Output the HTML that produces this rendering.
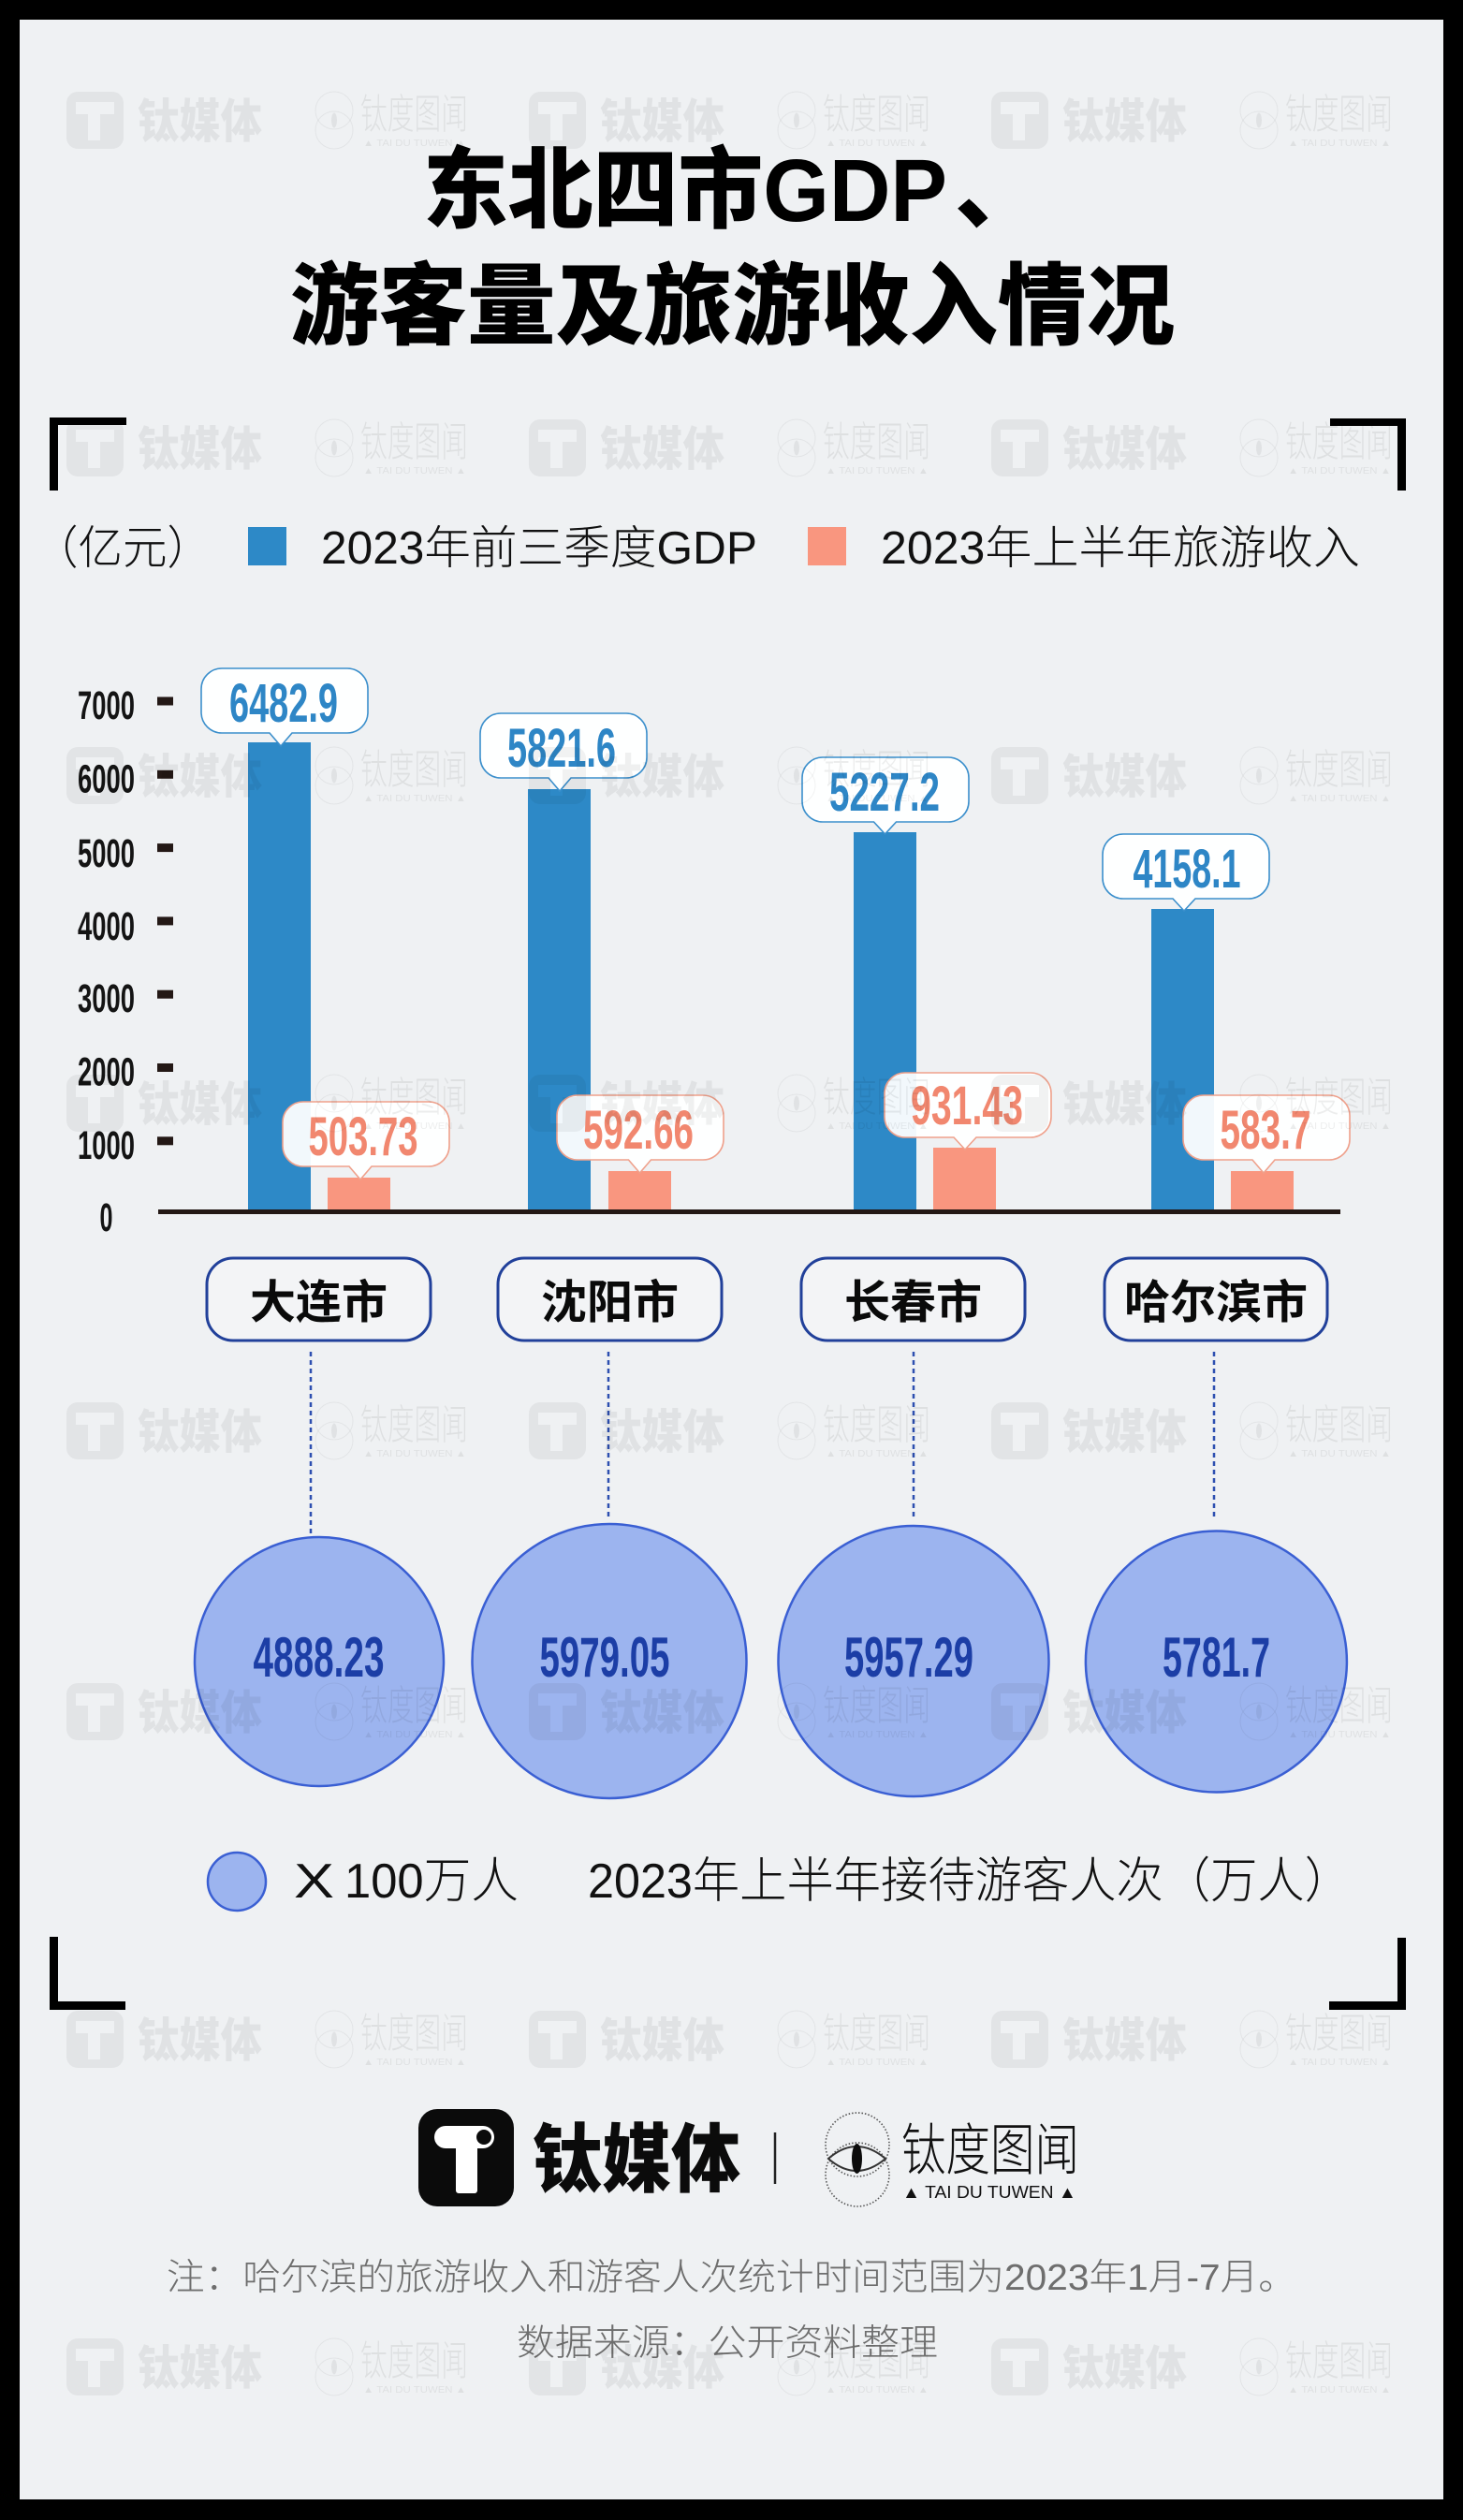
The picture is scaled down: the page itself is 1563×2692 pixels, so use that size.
<!DOCTYPE html>
<html><head><meta charset="utf-8">
<style>html,body{margin:0;padding:0;background:#000}svg{display:block}</style>
</head><body>
<svg width="1563" height="2692" viewBox="0 0 1563 2692" xmlns="http://www.w3.org/2000/svg">
<rect x="0" y="0" width="1563" height="2692" fill="#000"/>
<rect x="21" y="21" width="1521" height="2649" fill="#eff1f3"/>

<!-- Title -->
<g font-family="'Liberation Sans','Noto Sans CJK SC',sans-serif" font-weight="900" fill="#000" font-size="95">
<text x="452" y="236" textLength="560" lengthAdjust="spacingAndGlyphs">东北四市GDP</text>
<text x="1020" y="236">、</text>
<text x="310" y="360" textLength="945" lengthAdjust="spacingAndGlyphs">游客量及旅游收入情况</text>
</g>

<!-- brackets -->
<g fill="#000">
<rect x="53" y="446" width="82" height="8"/><rect x="53" y="446" width="9" height="78"/>
<rect x="1421" y="447" width="81" height="8"/><rect x="1493" y="447" width="9" height="77"/>
<rect x="53" y="2069" width="9" height="78"/><rect x="53" y="2138" width="81" height="9"/>
<rect x="1493" y="2070" width="9" height="77"/><rect x="1420" y="2138" width="82" height="9"/>
</g>

<!-- Legend top -->
<g font-family="'Liberation Sans','Noto Sans CJK SC',sans-serif" font-weight="300" fill="#111" font-size="49">
<text x="36" y="602" textLength="190" lengthAdjust="spacingAndGlyphs">（亿元）</text>
<text x="343" y="602" textLength="466" lengthAdjust="spacingAndGlyphs">2023年前三季度GDP</text>
<text x="941" y="602" textLength="512" lengthAdjust="spacingAndGlyphs">2023年上半年旅游收入</text>
</g>
<rect x="265" y="563" width="41" height="41" fill="#2d89c7"/>
<rect x="863" y="563" width="41" height="41" fill="#f9967f"/>

<!-- Y axis -->
<g fill="#231815">
<rect x="168" y="744.5" width="17" height="9"/>
<rect x="168" y="822.8" width="17" height="9"/>
<rect x="168" y="901.1" width="17" height="9"/>
<rect x="168" y="979.4" width="17" height="9"/>
<rect x="168" y="1057.7" width="17" height="9"/>
<rect x="168" y="1136" width="17" height="9"/>
<rect x="168" y="1214.3" width="17" height="9"/>
</g>
<g font-family="'Liberation Sans Narrow','Liberation Sans',sans-serif" font-weight="bold" font-size="43" fill="#141414" text-anchor="middle">
<text x="113.5" y="768" textLength="61" lengthAdjust="spacingAndGlyphs">7000</text>
<text x="113.5" y="846.3" textLength="61" lengthAdjust="spacingAndGlyphs">6000</text>
<text x="113.5" y="926" textLength="61" lengthAdjust="spacingAndGlyphs">5000</text>
<text x="113.5" y="1004" textLength="61" lengthAdjust="spacingAndGlyphs">4000</text>
<text x="113.5" y="1081.2" textLength="61" lengthAdjust="spacingAndGlyphs">3000</text>
<text x="113.5" y="1159.5" textLength="61" lengthAdjust="spacingAndGlyphs">2000</text>
<text x="113.5" y="1237.8" textLength="61" lengthAdjust="spacingAndGlyphs">1000</text>
<text x="113.5" y="1315" textLength="14" lengthAdjust="spacingAndGlyphs">0</text>
</g>

<!-- Bars -->
<g fill="#2d89c7">
<rect x="265" y="793" width="67" height="502"/>
<rect x="564" y="843" width="67" height="452"/>
<rect x="912" y="889" width="67" height="406"/>
<rect x="1230" y="971" width="67" height="324"/>
</g>
<g fill="#f9967f">
<rect x="350" y="1258" width="67" height="37"/>
<rect x="650" y="1251" width="67" height="44"/>
<rect x="997" y="1226" width="67" height="69"/>
<rect x="1315" y="1251" width="67" height="44"/>
</g>
<rect x="169" y="1292" width="1263" height="5" fill="#231815"/>

<!-- Blue bubbles -->
<g fill="#ffffff" fill-opacity="0.94" stroke="#3b8fcc" stroke-width="1.6">
<path d="M237,714 H371 A22,22 0 0 1 393,736 V761 A22,22 0 0 1 371,783 H312 L300,797 L288,783 H237 A22,22 0 0 1 215,761 V736 A22,22 0 0 1 237,714 Z"/>
<path d="M535,762 H669 A22,22 0 0 1 691,784 V809 A22,22 0 0 1 669,831 H610 L598,845 L586,831 H535 A22,22 0 0 1 513,809 V784 A22,22 0 0 1 535,762 Z"/>
<path d="M879,809 H1013 A22,22 0 0 1 1035,831 V856 A22,22 0 0 1 1013,878 H957.5 L945.5,891 L933.5,878 H879 A22,22 0 0 1 857,856 V831 A22,22 0 0 1 879,809 Z"/>
<path d="M1200,891 H1334 A22,22 0 0 1 1356,913 V938 A22,22 0 0 1 1334,960 H1277 L1265,973 L1253,960 H1200 A22,22 0 0 1 1178,938 V913 A22,22 0 0 1 1200,891 Z"/>
</g>
<g fill="#ffffff" fill-opacity="0.94" stroke="#efa18c" stroke-width="1.6">
<path d="M324,1177 H458 A22,22 0 0 1 480,1199 V1224 A22,22 0 0 1 458,1246 H397 L385,1260 L373,1246 H324 A22,22 0 0 1 302,1224 V1199 A22,22 0 0 1 324,1177 Z"/>
<path d="M617,1170 H751 A22,22 0 0 1 773,1192 V1217 A22,22 0 0 1 751,1239 H695.5 L683.5,1253 L671.5,1239 H617 A22,22 0 0 1 595,1217 V1192 A22,22 0 0 1 617,1170 Z"/>
<path d="M967,1146 H1101 A22,22 0 0 1 1123,1168 V1193 A22,22 0 0 1 1101,1215 H1043 L1031,1228 L1019,1215 H967 A22,22 0 0 1 945,1193 V1168 A22,22 0 0 1 967,1146 Z"/>
<path d="M1286,1170 H1420 A22,22 0 0 1 1442,1192 V1217 A22,22 0 0 1 1420,1239 H1362 L1350,1253 L1338,1239 H1286 A22,22 0 0 1 1264,1217 V1192 A22,22 0 0 1 1286,1170 Z"/>
</g>
<g font-family="'Liberation Sans Narrow','Liberation Sans',sans-serif" font-weight="bold" font-size="58" text-anchor="middle">
<g fill="#2e86c6">
<text x="303" y="771" textLength="116" lengthAdjust="spacingAndGlyphs">6482.9</text>
<text x="600" y="819" textLength="116" lengthAdjust="spacingAndGlyphs">5821.6</text>
<text x="945" y="866" textLength="118" lengthAdjust="spacingAndGlyphs">5227.2</text>
<text x="1268" y="948" textLength="115" lengthAdjust="spacingAndGlyphs">4158.1</text>
</g>
<g fill="#f1876f">
<text x="388" y="1234" textLength="117" lengthAdjust="spacingAndGlyphs">503.73</text>
<text x="682" y="1227" textLength="118" lengthAdjust="spacingAndGlyphs">592.66</text>
<text x="1033" y="1201" textLength="120" lengthAdjust="spacingAndGlyphs">931.43</text>
<text x="1352" y="1227" textLength="97" lengthAdjust="spacingAndGlyphs">583.7</text>
</g>
</g>

<!-- City boxes -->
<g fill="#f3f4f6" stroke="#21409a" stroke-width="3">
<rect x="221" y="1344" width="239" height="88" rx="28"/>
<rect x="532" y="1344" width="239" height="88" rx="28"/>
<rect x="856" y="1344" width="239" height="88" rx="28"/>
<rect x="1180" y="1344" width="238" height="88" rx="28"/>
</g>
<g font-family="'Liberation Sans','Noto Sans CJK SC',sans-serif" font-weight="bold" font-size="49" fill="#0a0a0a" text-anchor="middle">
<text x="340.5" y="1408">大连市</text>
<text x="651.5" y="1408">沈阳市</text>
<text x="975.5" y="1408">长春市</text>
<text x="1299" y="1408">哈尔滨市</text>
</g>

<!-- dashed connectors -->
<g stroke="#2d4fb0" stroke-width="2.5" stroke-dasharray="5 4">
<line x1="332" y1="1444" x2="332" y2="1638"/>
<line x1="650" y1="1444" x2="650" y2="1624"/>
<line x1="976" y1="1444" x2="976" y2="1624"/>
<line x1="1297" y1="1444" x2="1297" y2="1624"/>
</g>

<!-- circles -->
<g fill="#9cb4ef" stroke="#3a5fd3" stroke-width="2.5">
<circle cx="341" cy="1775" r="133"/>
<circle cx="651" cy="1774.5" r="146.5"/>
<circle cx="976" cy="1774.5" r="144.5"/>
<circle cx="1299.4" cy="1775" r="139.5"/>
</g>
<g font-family="'Liberation Sans Narrow','Liberation Sans',sans-serif" font-weight="bold" font-size="60" fill="#1c3ea6" text-anchor="middle">
<text x="340.5" y="1791" textLength="140" lengthAdjust="spacingAndGlyphs">4888.23</text>
<text x="646" y="1791" textLength="139" lengthAdjust="spacingAndGlyphs">5979.05</text>
<text x="971" y="1791" textLength="138" lengthAdjust="spacingAndGlyphs">5957.29</text>
<text x="1299.5" y="1791" textLength="115" lengthAdjust="spacingAndGlyphs">5781.7</text>
</g>

<!-- bottom legend -->
<circle cx="253" cy="2010" r="31" fill="#9cb4ef" stroke="#3a5fd3" stroke-width="2.5"/>
<g font-family="'Liberation Sans','Noto Sans CJK SC',sans-serif" font-weight="300" fill="#111" font-size="52">
<text x="314" y="2027" textLength="43" lengthAdjust="spacingAndGlyphs">X</text>
<text x="368" y="2027" textLength="186" lengthAdjust="spacingAndGlyphs">100万人</text>
<text x="628" y="2027" textLength="816" lengthAdjust="spacingAndGlyphs">2023年上半年接待游客人次（万人）</text>
</g>

<!-- footer logos -->
<rect x="447" y="2253" width="102" height="104" rx="20" fill="#0b0b0b"/>
<rect x="464" y="2271" width="64" height="24" rx="12" fill="#fff"/>
<rect x="487" y="2285" width="23" height="58" rx="3" fill="#fff"/>
<circle cx="517" cy="2283" r="8" fill="#0b0b0b"/>
<text x="569" y="2335" font-family="'Liberation Sans','Noto Sans CJK SC',sans-serif" font-weight="900" font-size="80" fill="#0b0b0b" textLength="222" lengthAdjust="spacingAndGlyphs">钛媒体</text>
<line x1="828" y1="2278" x2="828" y2="2333" stroke="#222" stroke-width="2.5"/>
<g fill="none" stroke="#555" stroke-width="1.6" stroke-dasharray="1.5 2">
<circle cx="916" cy="2291" r="34"/>
<circle cx="916" cy="2323" r="34"/>
</g>
<path d="M885,2306 Q915,2280 946,2306 Q915,2332 885,2306 Z" fill="none" stroke="#333" stroke-width="2"/>
<ellipse cx="915.5" cy="2306" rx="5.5" ry="16" fill="#0b0b0b"/>
<text x="963" y="2318" font-family="'Liberation Sans','Noto Sans CJK SC',sans-serif" font-weight="200" font-size="60" fill="#111" textLength="190" lengthAdjust="spacingAndGlyphs">钛度图闻</text>
<text x="964" y="2348" font-family="'Liberation Sans',sans-serif" font-size="18" fill="#111" textLength="186" lengthAdjust="spacingAndGlyphs">▲ TAI DU TUWEN ▲</text>

<!-- footnotes -->
<g font-family="'Liberation Sans','Noto Sans CJK SC',sans-serif" font-weight="300" font-size="39" fill="#6e6e6e">
<text x="178" y="2446" textLength="1207" lengthAdjust="spacingAndGlyphs">注：哈尔滨的旅游收入和游客人次统计时间范围为2023年1月-7月。</text>
<text x="552" y="2516" textLength="450" lengthAdjust="spacingAndGlyphs">数据来源：公开资料整理</text>
</g>

<!-- watermarks -->
<g font-family="'Liberation Sans','Noto Sans CJK SC',sans-serif">
<g transform="translate(0,98)">
<g transform="translate(71,0)"><path fill-rule="evenodd" fill="#000" fill-opacity="0.05" d="M12,0H49A12,12 0 0 1 61,12V49A12,12 0 0 1 49,61H12A12,12 0 0 1 0,49V12A12,12 0 0 1 12,0ZM10,11H51V24H36V52H23V24H10Z"/><text x="76" y="49" font-size="50" font-weight="900" fill="#000" fill-opacity="0.06" textLength="133" lengthAdjust="spacingAndGlyphs">钛媒体</text></g>
<g transform="translate(565,0)"><path fill-rule="evenodd" fill="#000" fill-opacity="0.05" d="M12,0H49A12,12 0 0 1 61,12V49A12,12 0 0 1 49,61H12A12,12 0 0 1 0,49V12A12,12 0 0 1 12,0ZM10,11H51V24H36V52H23V24H10Z"/><text x="76" y="49" font-size="50" font-weight="900" fill="#000" fill-opacity="0.06" textLength="133" lengthAdjust="spacingAndGlyphs">钛媒体</text></g>
<g transform="translate(1059,0)"><path fill-rule="evenodd" fill="#000" fill-opacity="0.05" d="M12,0H49A12,12 0 0 1 61,12V49A12,12 0 0 1 49,61H12A12,12 0 0 1 0,49V12A12,12 0 0 1 12,0ZM10,11H51V24H36V52H23V24H10Z"/><text x="76" y="49" font-size="50" font-weight="900" fill="#000" fill-opacity="0.06" textLength="133" lengthAdjust="spacingAndGlyphs">钛媒体</text></g>
<g transform="translate(337,0)"><circle cx="20" cy="20" r="20" fill="none" stroke="#000" stroke-opacity="0.05"/><circle cx="20" cy="41" r="20" fill="none" stroke="#000" stroke-opacity="0.05"/><ellipse cx="20" cy="30.5" rx="3" ry="8" fill="#000" fill-opacity="0.06"/><text x="48" y="39" font-size="44" font-weight="200" fill="#000" fill-opacity="0.07" textLength="115" lengthAdjust="spacingAndGlyphs">钛度图闻</text><text x="51" y="58" font-size="10" fill="#000" fill-opacity="0.07" textLength="110" lengthAdjust="spacingAndGlyphs">▲ TAI DU TUWEN ▲</text></g>
<g transform="translate(831,0)"><circle cx="20" cy="20" r="20" fill="none" stroke="#000" stroke-opacity="0.05"/><circle cx="20" cy="41" r="20" fill="none" stroke="#000" stroke-opacity="0.05"/><ellipse cx="20" cy="30.5" rx="3" ry="8" fill="#000" fill-opacity="0.06"/><text x="48" y="39" font-size="44" font-weight="200" fill="#000" fill-opacity="0.07" textLength="115" lengthAdjust="spacingAndGlyphs">钛度图闻</text><text x="51" y="58" font-size="10" fill="#000" fill-opacity="0.07" textLength="110" lengthAdjust="spacingAndGlyphs">▲ TAI DU TUWEN ▲</text></g>
<g transform="translate(1325,0)"><circle cx="20" cy="20" r="20" fill="none" stroke="#000" stroke-opacity="0.05"/><circle cx="20" cy="41" r="20" fill="none" stroke="#000" stroke-opacity="0.05"/><ellipse cx="20" cy="30.5" rx="3" ry="8" fill="#000" fill-opacity="0.06"/><text x="48" y="39" font-size="44" font-weight="200" fill="#000" fill-opacity="0.07" textLength="115" lengthAdjust="spacingAndGlyphs">钛度图闻</text><text x="51" y="58" font-size="10" fill="#000" fill-opacity="0.07" textLength="110" lengthAdjust="spacingAndGlyphs">▲ TAI DU TUWEN ▲</text></g>
</g>
<g transform="translate(0,448)">
<g transform="translate(71,0)"><path fill-rule="evenodd" fill="#000" fill-opacity="0.05" d="M12,0H49A12,12 0 0 1 61,12V49A12,12 0 0 1 49,61H12A12,12 0 0 1 0,49V12A12,12 0 0 1 12,0ZM10,11H51V24H36V52H23V24H10Z"/><text x="76" y="49" font-size="50" font-weight="900" fill="#000" fill-opacity="0.06" textLength="133" lengthAdjust="spacingAndGlyphs">钛媒体</text></g>
<g transform="translate(565,0)"><path fill-rule="evenodd" fill="#000" fill-opacity="0.05" d="M12,0H49A12,12 0 0 1 61,12V49A12,12 0 0 1 49,61H12A12,12 0 0 1 0,49V12A12,12 0 0 1 12,0ZM10,11H51V24H36V52H23V24H10Z"/><text x="76" y="49" font-size="50" font-weight="900" fill="#000" fill-opacity="0.06" textLength="133" lengthAdjust="spacingAndGlyphs">钛媒体</text></g>
<g transform="translate(1059,0)"><path fill-rule="evenodd" fill="#000" fill-opacity="0.05" d="M12,0H49A12,12 0 0 1 61,12V49A12,12 0 0 1 49,61H12A12,12 0 0 1 0,49V12A12,12 0 0 1 12,0ZM10,11H51V24H36V52H23V24H10Z"/><text x="76" y="49" font-size="50" font-weight="900" fill="#000" fill-opacity="0.06" textLength="133" lengthAdjust="spacingAndGlyphs">钛媒体</text></g>
<g transform="translate(337,0)"><circle cx="20" cy="20" r="20" fill="none" stroke="#000" stroke-opacity="0.05"/><circle cx="20" cy="41" r="20" fill="none" stroke="#000" stroke-opacity="0.05"/><ellipse cx="20" cy="30.5" rx="3" ry="8" fill="#000" fill-opacity="0.06"/><text x="48" y="39" font-size="44" font-weight="200" fill="#000" fill-opacity="0.07" textLength="115" lengthAdjust="spacingAndGlyphs">钛度图闻</text><text x="51" y="58" font-size="10" fill="#000" fill-opacity="0.07" textLength="110" lengthAdjust="spacingAndGlyphs">▲ TAI DU TUWEN ▲</text></g>
<g transform="translate(831,0)"><circle cx="20" cy="20" r="20" fill="none" stroke="#000" stroke-opacity="0.05"/><circle cx="20" cy="41" r="20" fill="none" stroke="#000" stroke-opacity="0.05"/><ellipse cx="20" cy="30.5" rx="3" ry="8" fill="#000" fill-opacity="0.06"/><text x="48" y="39" font-size="44" font-weight="200" fill="#000" fill-opacity="0.07" textLength="115" lengthAdjust="spacingAndGlyphs">钛度图闻</text><text x="51" y="58" font-size="10" fill="#000" fill-opacity="0.07" textLength="110" lengthAdjust="spacingAndGlyphs">▲ TAI DU TUWEN ▲</text></g>
<g transform="translate(1325,0)"><circle cx="20" cy="20" r="20" fill="none" stroke="#000" stroke-opacity="0.05"/><circle cx="20" cy="41" r="20" fill="none" stroke="#000" stroke-opacity="0.05"/><ellipse cx="20" cy="30.5" rx="3" ry="8" fill="#000" fill-opacity="0.06"/><text x="48" y="39" font-size="44" font-weight="200" fill="#000" fill-opacity="0.07" textLength="115" lengthAdjust="spacingAndGlyphs">钛度图闻</text><text x="51" y="58" font-size="10" fill="#000" fill-opacity="0.07" textLength="110" lengthAdjust="spacingAndGlyphs">▲ TAI DU TUWEN ▲</text></g>
</g>
<g transform="translate(0,798)">
<g transform="translate(71,0)"><path fill-rule="evenodd" fill="#000" fill-opacity="0.05" d="M12,0H49A12,12 0 0 1 61,12V49A12,12 0 0 1 49,61H12A12,12 0 0 1 0,49V12A12,12 0 0 1 12,0ZM10,11H51V24H36V52H23V24H10Z"/><text x="76" y="49" font-size="50" font-weight="900" fill="#000" fill-opacity="0.06" textLength="133" lengthAdjust="spacingAndGlyphs">钛媒体</text></g>
<g transform="translate(565,0)"><path fill-rule="evenodd" fill="#000" fill-opacity="0.05" d="M12,0H49A12,12 0 0 1 61,12V49A12,12 0 0 1 49,61H12A12,12 0 0 1 0,49V12A12,12 0 0 1 12,0ZM10,11H51V24H36V52H23V24H10Z"/><text x="76" y="49" font-size="50" font-weight="900" fill="#000" fill-opacity="0.06" textLength="133" lengthAdjust="spacingAndGlyphs">钛媒体</text></g>
<g transform="translate(1059,0)"><path fill-rule="evenodd" fill="#000" fill-opacity="0.05" d="M12,0H49A12,12 0 0 1 61,12V49A12,12 0 0 1 49,61H12A12,12 0 0 1 0,49V12A12,12 0 0 1 12,0ZM10,11H51V24H36V52H23V24H10Z"/><text x="76" y="49" font-size="50" font-weight="900" fill="#000" fill-opacity="0.06" textLength="133" lengthAdjust="spacingAndGlyphs">钛媒体</text></g>
<g transform="translate(337,0)"><circle cx="20" cy="20" r="20" fill="none" stroke="#000" stroke-opacity="0.05"/><circle cx="20" cy="41" r="20" fill="none" stroke="#000" stroke-opacity="0.05"/><ellipse cx="20" cy="30.5" rx="3" ry="8" fill="#000" fill-opacity="0.06"/><text x="48" y="39" font-size="44" font-weight="200" fill="#000" fill-opacity="0.07" textLength="115" lengthAdjust="spacingAndGlyphs">钛度图闻</text><text x="51" y="58" font-size="10" fill="#000" fill-opacity="0.07" textLength="110" lengthAdjust="spacingAndGlyphs">▲ TAI DU TUWEN ▲</text></g>
<g transform="translate(831,0)"><circle cx="20" cy="20" r="20" fill="none" stroke="#000" stroke-opacity="0.05"/><circle cx="20" cy="41" r="20" fill="none" stroke="#000" stroke-opacity="0.05"/><ellipse cx="20" cy="30.5" rx="3" ry="8" fill="#000" fill-opacity="0.06"/><text x="48" y="39" font-size="44" font-weight="200" fill="#000" fill-opacity="0.07" textLength="115" lengthAdjust="spacingAndGlyphs">钛度图闻</text><text x="51" y="58" font-size="10" fill="#000" fill-opacity="0.07" textLength="110" lengthAdjust="spacingAndGlyphs">▲ TAI DU TUWEN ▲</text></g>
<g transform="translate(1325,0)"><circle cx="20" cy="20" r="20" fill="none" stroke="#000" stroke-opacity="0.05"/><circle cx="20" cy="41" r="20" fill="none" stroke="#000" stroke-opacity="0.05"/><ellipse cx="20" cy="30.5" rx="3" ry="8" fill="#000" fill-opacity="0.06"/><text x="48" y="39" font-size="44" font-weight="200" fill="#000" fill-opacity="0.07" textLength="115" lengthAdjust="spacingAndGlyphs">钛度图闻</text><text x="51" y="58" font-size="10" fill="#000" fill-opacity="0.07" textLength="110" lengthAdjust="spacingAndGlyphs">▲ TAI DU TUWEN ▲</text></g>
</g>
<g transform="translate(0,1148)">
<g transform="translate(71,0)"><path fill-rule="evenodd" fill="#000" fill-opacity="0.05" d="M12,0H49A12,12 0 0 1 61,12V49A12,12 0 0 1 49,61H12A12,12 0 0 1 0,49V12A12,12 0 0 1 12,0ZM10,11H51V24H36V52H23V24H10Z"/><text x="76" y="49" font-size="50" font-weight="900" fill="#000" fill-opacity="0.06" textLength="133" lengthAdjust="spacingAndGlyphs">钛媒体</text></g>
<g transform="translate(565,0)"><path fill-rule="evenodd" fill="#000" fill-opacity="0.05" d="M12,0H49A12,12 0 0 1 61,12V49A12,12 0 0 1 49,61H12A12,12 0 0 1 0,49V12A12,12 0 0 1 12,0ZM10,11H51V24H36V52H23V24H10Z"/><text x="76" y="49" font-size="50" font-weight="900" fill="#000" fill-opacity="0.06" textLength="133" lengthAdjust="spacingAndGlyphs">钛媒体</text></g>
<g transform="translate(1059,0)"><path fill-rule="evenodd" fill="#000" fill-opacity="0.05" d="M12,0H49A12,12 0 0 1 61,12V49A12,12 0 0 1 49,61H12A12,12 0 0 1 0,49V12A12,12 0 0 1 12,0ZM10,11H51V24H36V52H23V24H10Z"/><text x="76" y="49" font-size="50" font-weight="900" fill="#000" fill-opacity="0.06" textLength="133" lengthAdjust="spacingAndGlyphs">钛媒体</text></g>
<g transform="translate(337,0)"><circle cx="20" cy="20" r="20" fill="none" stroke="#000" stroke-opacity="0.05"/><circle cx="20" cy="41" r="20" fill="none" stroke="#000" stroke-opacity="0.05"/><ellipse cx="20" cy="30.5" rx="3" ry="8" fill="#000" fill-opacity="0.06"/><text x="48" y="39" font-size="44" font-weight="200" fill="#000" fill-opacity="0.07" textLength="115" lengthAdjust="spacingAndGlyphs">钛度图闻</text><text x="51" y="58" font-size="10" fill="#000" fill-opacity="0.07" textLength="110" lengthAdjust="spacingAndGlyphs">▲ TAI DU TUWEN ▲</text></g>
<g transform="translate(831,0)"><circle cx="20" cy="20" r="20" fill="none" stroke="#000" stroke-opacity="0.05"/><circle cx="20" cy="41" r="20" fill="none" stroke="#000" stroke-opacity="0.05"/><ellipse cx="20" cy="30.5" rx="3" ry="8" fill="#000" fill-opacity="0.06"/><text x="48" y="39" font-size="44" font-weight="200" fill="#000" fill-opacity="0.07" textLength="115" lengthAdjust="spacingAndGlyphs">钛度图闻</text><text x="51" y="58" font-size="10" fill="#000" fill-opacity="0.07" textLength="110" lengthAdjust="spacingAndGlyphs">▲ TAI DU TUWEN ▲</text></g>
<g transform="translate(1325,0)"><circle cx="20" cy="20" r="20" fill="none" stroke="#000" stroke-opacity="0.05"/><circle cx="20" cy="41" r="20" fill="none" stroke="#000" stroke-opacity="0.05"/><ellipse cx="20" cy="30.5" rx="3" ry="8" fill="#000" fill-opacity="0.06"/><text x="48" y="39" font-size="44" font-weight="200" fill="#000" fill-opacity="0.07" textLength="115" lengthAdjust="spacingAndGlyphs">钛度图闻</text><text x="51" y="58" font-size="10" fill="#000" fill-opacity="0.07" textLength="110" lengthAdjust="spacingAndGlyphs">▲ TAI DU TUWEN ▲</text></g>
</g>
<g transform="translate(0,1498)">
<g transform="translate(71,0)"><path fill-rule="evenodd" fill="#000" fill-opacity="0.05" d="M12,0H49A12,12 0 0 1 61,12V49A12,12 0 0 1 49,61H12A12,12 0 0 1 0,49V12A12,12 0 0 1 12,0ZM10,11H51V24H36V52H23V24H10Z"/><text x="76" y="49" font-size="50" font-weight="900" fill="#000" fill-opacity="0.06" textLength="133" lengthAdjust="spacingAndGlyphs">钛媒体</text></g>
<g transform="translate(565,0)"><path fill-rule="evenodd" fill="#000" fill-opacity="0.05" d="M12,0H49A12,12 0 0 1 61,12V49A12,12 0 0 1 49,61H12A12,12 0 0 1 0,49V12A12,12 0 0 1 12,0ZM10,11H51V24H36V52H23V24H10Z"/><text x="76" y="49" font-size="50" font-weight="900" fill="#000" fill-opacity="0.06" textLength="133" lengthAdjust="spacingAndGlyphs">钛媒体</text></g>
<g transform="translate(1059,0)"><path fill-rule="evenodd" fill="#000" fill-opacity="0.05" d="M12,0H49A12,12 0 0 1 61,12V49A12,12 0 0 1 49,61H12A12,12 0 0 1 0,49V12A12,12 0 0 1 12,0ZM10,11H51V24H36V52H23V24H10Z"/><text x="76" y="49" font-size="50" font-weight="900" fill="#000" fill-opacity="0.06" textLength="133" lengthAdjust="spacingAndGlyphs">钛媒体</text></g>
<g transform="translate(337,0)"><circle cx="20" cy="20" r="20" fill="none" stroke="#000" stroke-opacity="0.05"/><circle cx="20" cy="41" r="20" fill="none" stroke="#000" stroke-opacity="0.05"/><ellipse cx="20" cy="30.5" rx="3" ry="8" fill="#000" fill-opacity="0.06"/><text x="48" y="39" font-size="44" font-weight="200" fill="#000" fill-opacity="0.07" textLength="115" lengthAdjust="spacingAndGlyphs">钛度图闻</text><text x="51" y="58" font-size="10" fill="#000" fill-opacity="0.07" textLength="110" lengthAdjust="spacingAndGlyphs">▲ TAI DU TUWEN ▲</text></g>
<g transform="translate(831,0)"><circle cx="20" cy="20" r="20" fill="none" stroke="#000" stroke-opacity="0.05"/><circle cx="20" cy="41" r="20" fill="none" stroke="#000" stroke-opacity="0.05"/><ellipse cx="20" cy="30.5" rx="3" ry="8" fill="#000" fill-opacity="0.06"/><text x="48" y="39" font-size="44" font-weight="200" fill="#000" fill-opacity="0.07" textLength="115" lengthAdjust="spacingAndGlyphs">钛度图闻</text><text x="51" y="58" font-size="10" fill="#000" fill-opacity="0.07" textLength="110" lengthAdjust="spacingAndGlyphs">▲ TAI DU TUWEN ▲</text></g>
<g transform="translate(1325,0)"><circle cx="20" cy="20" r="20" fill="none" stroke="#000" stroke-opacity="0.05"/><circle cx="20" cy="41" r="20" fill="none" stroke="#000" stroke-opacity="0.05"/><ellipse cx="20" cy="30.5" rx="3" ry="8" fill="#000" fill-opacity="0.06"/><text x="48" y="39" font-size="44" font-weight="200" fill="#000" fill-opacity="0.07" textLength="115" lengthAdjust="spacingAndGlyphs">钛度图闻</text><text x="51" y="58" font-size="10" fill="#000" fill-opacity="0.07" textLength="110" lengthAdjust="spacingAndGlyphs">▲ TAI DU TUWEN ▲</text></g>
</g>
<g transform="translate(0,1798)">
<g transform="translate(71,0)"><path fill-rule="evenodd" fill="#000" fill-opacity="0.05" d="M12,0H49A12,12 0 0 1 61,12V49A12,12 0 0 1 49,61H12A12,12 0 0 1 0,49V12A12,12 0 0 1 12,0ZM10,11H51V24H36V52H23V24H10Z"/><text x="76" y="49" font-size="50" font-weight="900" fill="#000" fill-opacity="0.06" textLength="133" lengthAdjust="spacingAndGlyphs">钛媒体</text></g>
<g transform="translate(565,0)"><path fill-rule="evenodd" fill="#000" fill-opacity="0.05" d="M12,0H49A12,12 0 0 1 61,12V49A12,12 0 0 1 49,61H12A12,12 0 0 1 0,49V12A12,12 0 0 1 12,0ZM10,11H51V24H36V52H23V24H10Z"/><text x="76" y="49" font-size="50" font-weight="900" fill="#000" fill-opacity="0.06" textLength="133" lengthAdjust="spacingAndGlyphs">钛媒体</text></g>
<g transform="translate(1059,0)"><path fill-rule="evenodd" fill="#000" fill-opacity="0.05" d="M12,0H49A12,12 0 0 1 61,12V49A12,12 0 0 1 49,61H12A12,12 0 0 1 0,49V12A12,12 0 0 1 12,0ZM10,11H51V24H36V52H23V24H10Z"/><text x="76" y="49" font-size="50" font-weight="900" fill="#000" fill-opacity="0.06" textLength="133" lengthAdjust="spacingAndGlyphs">钛媒体</text></g>
<g transform="translate(337,0)"><circle cx="20" cy="20" r="20" fill="none" stroke="#000" stroke-opacity="0.05"/><circle cx="20" cy="41" r="20" fill="none" stroke="#000" stroke-opacity="0.05"/><ellipse cx="20" cy="30.5" rx="3" ry="8" fill="#000" fill-opacity="0.06"/><text x="48" y="39" font-size="44" font-weight="200" fill="#000" fill-opacity="0.07" textLength="115" lengthAdjust="spacingAndGlyphs">钛度图闻</text><text x="51" y="58" font-size="10" fill="#000" fill-opacity="0.07" textLength="110" lengthAdjust="spacingAndGlyphs">▲ TAI DU TUWEN ▲</text></g>
<g transform="translate(831,0)"><circle cx="20" cy="20" r="20" fill="none" stroke="#000" stroke-opacity="0.05"/><circle cx="20" cy="41" r="20" fill="none" stroke="#000" stroke-opacity="0.05"/><ellipse cx="20" cy="30.5" rx="3" ry="8" fill="#000" fill-opacity="0.06"/><text x="48" y="39" font-size="44" font-weight="200" fill="#000" fill-opacity="0.07" textLength="115" lengthAdjust="spacingAndGlyphs">钛度图闻</text><text x="51" y="58" font-size="10" fill="#000" fill-opacity="0.07" textLength="110" lengthAdjust="spacingAndGlyphs">▲ TAI DU TUWEN ▲</text></g>
<g transform="translate(1325,0)"><circle cx="20" cy="20" r="20" fill="none" stroke="#000" stroke-opacity="0.05"/><circle cx="20" cy="41" r="20" fill="none" stroke="#000" stroke-opacity="0.05"/><ellipse cx="20" cy="30.5" rx="3" ry="8" fill="#000" fill-opacity="0.06"/><text x="48" y="39" font-size="44" font-weight="200" fill="#000" fill-opacity="0.07" textLength="115" lengthAdjust="spacingAndGlyphs">钛度图闻</text><text x="51" y="58" font-size="10" fill="#000" fill-opacity="0.07" textLength="110" lengthAdjust="spacingAndGlyphs">▲ TAI DU TUWEN ▲</text></g>
</g>
<g transform="translate(0,2148)">
<g transform="translate(71,0)"><path fill-rule="evenodd" fill="#000" fill-opacity="0.05" d="M12,0H49A12,12 0 0 1 61,12V49A12,12 0 0 1 49,61H12A12,12 0 0 1 0,49V12A12,12 0 0 1 12,0ZM10,11H51V24H36V52H23V24H10Z"/><text x="76" y="49" font-size="50" font-weight="900" fill="#000" fill-opacity="0.06" textLength="133" lengthAdjust="spacingAndGlyphs">钛媒体</text></g>
<g transform="translate(565,0)"><path fill-rule="evenodd" fill="#000" fill-opacity="0.05" d="M12,0H49A12,12 0 0 1 61,12V49A12,12 0 0 1 49,61H12A12,12 0 0 1 0,49V12A12,12 0 0 1 12,0ZM10,11H51V24H36V52H23V24H10Z"/><text x="76" y="49" font-size="50" font-weight="900" fill="#000" fill-opacity="0.06" textLength="133" lengthAdjust="spacingAndGlyphs">钛媒体</text></g>
<g transform="translate(1059,0)"><path fill-rule="evenodd" fill="#000" fill-opacity="0.05" d="M12,0H49A12,12 0 0 1 61,12V49A12,12 0 0 1 49,61H12A12,12 0 0 1 0,49V12A12,12 0 0 1 12,0ZM10,11H51V24H36V52H23V24H10Z"/><text x="76" y="49" font-size="50" font-weight="900" fill="#000" fill-opacity="0.06" textLength="133" lengthAdjust="spacingAndGlyphs">钛媒体</text></g>
<g transform="translate(337,0)"><circle cx="20" cy="20" r="20" fill="none" stroke="#000" stroke-opacity="0.05"/><circle cx="20" cy="41" r="20" fill="none" stroke="#000" stroke-opacity="0.05"/><ellipse cx="20" cy="30.5" rx="3" ry="8" fill="#000" fill-opacity="0.06"/><text x="48" y="39" font-size="44" font-weight="200" fill="#000" fill-opacity="0.07" textLength="115" lengthAdjust="spacingAndGlyphs">钛度图闻</text><text x="51" y="58" font-size="10" fill="#000" fill-opacity="0.07" textLength="110" lengthAdjust="spacingAndGlyphs">▲ TAI DU TUWEN ▲</text></g>
<g transform="translate(831,0)"><circle cx="20" cy="20" r="20" fill="none" stroke="#000" stroke-opacity="0.05"/><circle cx="20" cy="41" r="20" fill="none" stroke="#000" stroke-opacity="0.05"/><ellipse cx="20" cy="30.5" rx="3" ry="8" fill="#000" fill-opacity="0.06"/><text x="48" y="39" font-size="44" font-weight="200" fill="#000" fill-opacity="0.07" textLength="115" lengthAdjust="spacingAndGlyphs">钛度图闻</text><text x="51" y="58" font-size="10" fill="#000" fill-opacity="0.07" textLength="110" lengthAdjust="spacingAndGlyphs">▲ TAI DU TUWEN ▲</text></g>
<g transform="translate(1325,0)"><circle cx="20" cy="20" r="20" fill="none" stroke="#000" stroke-opacity="0.05"/><circle cx="20" cy="41" r="20" fill="none" stroke="#000" stroke-opacity="0.05"/><ellipse cx="20" cy="30.5" rx="3" ry="8" fill="#000" fill-opacity="0.06"/><text x="48" y="39" font-size="44" font-weight="200" fill="#000" fill-opacity="0.07" textLength="115" lengthAdjust="spacingAndGlyphs">钛度图闻</text><text x="51" y="58" font-size="10" fill="#000" fill-opacity="0.07" textLength="110" lengthAdjust="spacingAndGlyphs">▲ TAI DU TUWEN ▲</text></g>
</g>
<g transform="translate(0,2498)">
<g transform="translate(71,0)"><path fill-rule="evenodd" fill="#000" fill-opacity="0.05" d="M12,0H49A12,12 0 0 1 61,12V49A12,12 0 0 1 49,61H12A12,12 0 0 1 0,49V12A12,12 0 0 1 12,0ZM10,11H51V24H36V52H23V24H10Z"/><text x="76" y="49" font-size="50" font-weight="900" fill="#000" fill-opacity="0.06" textLength="133" lengthAdjust="spacingAndGlyphs">钛媒体</text></g>
<g transform="translate(565,0)"><path fill-rule="evenodd" fill="#000" fill-opacity="0.05" d="M12,0H49A12,12 0 0 1 61,12V49A12,12 0 0 1 49,61H12A12,12 0 0 1 0,49V12A12,12 0 0 1 12,0ZM10,11H51V24H36V52H23V24H10Z"/><text x="76" y="49" font-size="50" font-weight="900" fill="#000" fill-opacity="0.06" textLength="133" lengthAdjust="spacingAndGlyphs">钛媒体</text></g>
<g transform="translate(1059,0)"><path fill-rule="evenodd" fill="#000" fill-opacity="0.05" d="M12,0H49A12,12 0 0 1 61,12V49A12,12 0 0 1 49,61H12A12,12 0 0 1 0,49V12A12,12 0 0 1 12,0ZM10,11H51V24H36V52H23V24H10Z"/><text x="76" y="49" font-size="50" font-weight="900" fill="#000" fill-opacity="0.06" textLength="133" lengthAdjust="spacingAndGlyphs">钛媒体</text></g>
<g transform="translate(337,0)"><circle cx="20" cy="20" r="20" fill="none" stroke="#000" stroke-opacity="0.05"/><circle cx="20" cy="41" r="20" fill="none" stroke="#000" stroke-opacity="0.05"/><ellipse cx="20" cy="30.5" rx="3" ry="8" fill="#000" fill-opacity="0.06"/><text x="48" y="39" font-size="44" font-weight="200" fill="#000" fill-opacity="0.07" textLength="115" lengthAdjust="spacingAndGlyphs">钛度图闻</text><text x="51" y="58" font-size="10" fill="#000" fill-opacity="0.07" textLength="110" lengthAdjust="spacingAndGlyphs">▲ TAI DU TUWEN ▲</text></g>
<g transform="translate(831,0)"><circle cx="20" cy="20" r="20" fill="none" stroke="#000" stroke-opacity="0.05"/><circle cx="20" cy="41" r="20" fill="none" stroke="#000" stroke-opacity="0.05"/><ellipse cx="20" cy="30.5" rx="3" ry="8" fill="#000" fill-opacity="0.06"/><text x="48" y="39" font-size="44" font-weight="200" fill="#000" fill-opacity="0.07" textLength="115" lengthAdjust="spacingAndGlyphs">钛度图闻</text><text x="51" y="58" font-size="10" fill="#000" fill-opacity="0.07" textLength="110" lengthAdjust="spacingAndGlyphs">▲ TAI DU TUWEN ▲</text></g>
<g transform="translate(1325,0)"><circle cx="20" cy="20" r="20" fill="none" stroke="#000" stroke-opacity="0.05"/><circle cx="20" cy="41" r="20" fill="none" stroke="#000" stroke-opacity="0.05"/><ellipse cx="20" cy="30.5" rx="3" ry="8" fill="#000" fill-opacity="0.06"/><text x="48" y="39" font-size="44" font-weight="200" fill="#000" fill-opacity="0.07" textLength="115" lengthAdjust="spacingAndGlyphs">钛度图闻</text><text x="51" y="58" font-size="10" fill="#000" fill-opacity="0.07" textLength="110" lengthAdjust="spacingAndGlyphs">▲ TAI DU TUWEN ▲</text></g>
</g>
</g>
</svg>
</body></html>
